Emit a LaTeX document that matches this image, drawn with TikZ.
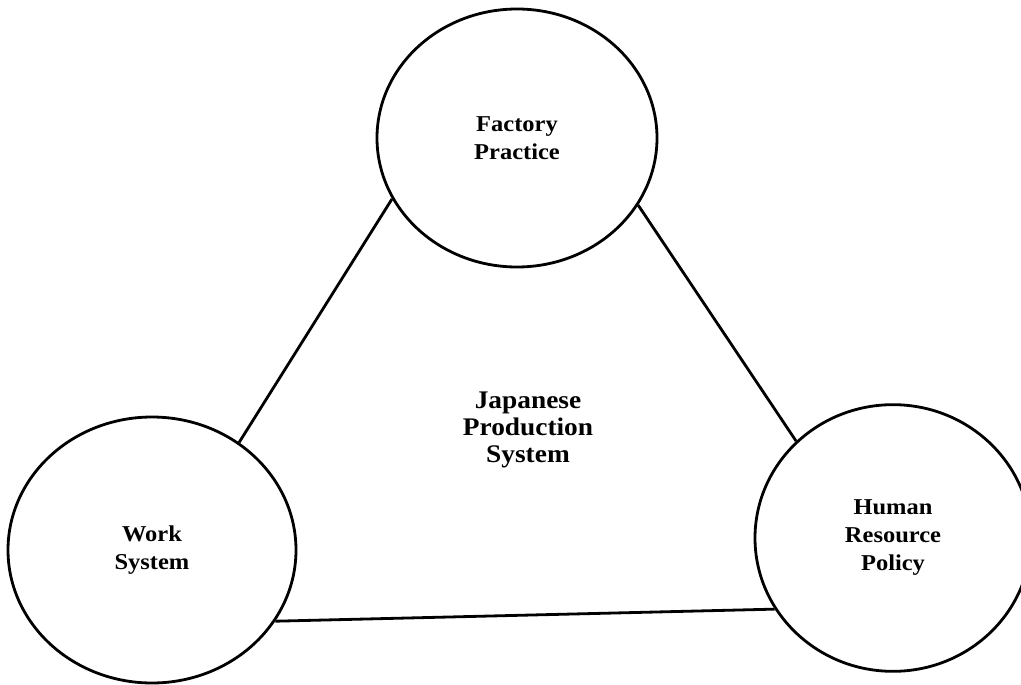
\documentclass[tikz,border=0pt]{standalone}
\usepackage{fontspec}
\setmainfont{Liberation Serif}[FakeStretch=1.08]
\usetikzlibrary{shapes.geometric}
\tikzset{
  bubble/.style={ellipse, draw, line width=2.1pt, inner sep=0pt, align=center,
    font=\fontsize{17}{21}\selectfont\bfseries},
  link/.style={line width=2.1pt},
  title/.style={align=center, font=\fontsize{19}{20.3}\selectfont\bfseries}
}
\begin{document}
\begin{tikzpicture}[x=0.75pt,y=-0.75pt]
\useasboundingbox (0,0) rectangle (1021,685);
\node[bubble, minimum width=210pt, minimum height=193.5pt] (fp) at (517,138) {Factory\\Practice};
\node[bubble, minimum width=216pt, minimum height=199.5pt] (ws) at (152,550) {Work\\System};
\node[bubble, minimum width=207pt, minimum height=200pt] (hr) at (893,538) {Human\\Resource\\Policy};
\node[title] (jps) at (528,430) {Japanese\\Production\\System};
\draw[link] (fp.206.4) -- (ws.51);
\draw[link] (fp.331.4) -- (hr.135.6);
\draw[link] (ws.330.8) -- (hr.211.8);
\end{tikzpicture}
\end{document}
